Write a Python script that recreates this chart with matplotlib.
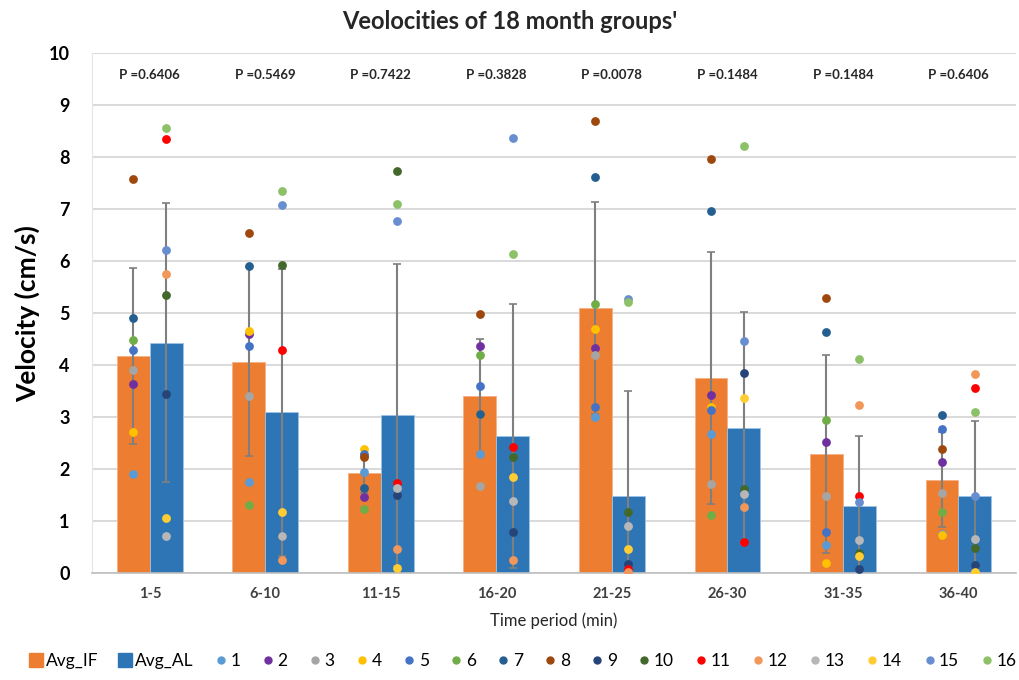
import numpy as np
import matplotlib
matplotlib.use("Agg")
import matplotlib.pyplot as plt
from matplotlib.lines import Line2D

plt.rcParams['font.family'] = ['Lato', 'DejaVu Sans']

# Time periods and summary stats
periods = ["1-5", "6-10", "11-15", "16-20", "21-25", "26-30", "31-35", "36-40"]
p_values = ["0.6406", "0.5469", "0.7422", "0.3828", "0.0078", "0.1484", "0.1484", "0.6406"]

avg_if = [4.17, 4.07, 1.92, 3.40, 5.10, 3.76, 2.29, 1.80]
avg_al = [4.43, 3.09, 3.04, 2.64, 1.48, 2.79, 1.29, 1.49]
err_if = [1.69, 1.81, 0.38, 1.11, 2.04, 2.42, 1.91, 0.91]
err_al = [2.68, 2.75, 2.90, 2.54, 2.03, 2.23, 1.34, 1.44]

# Individual subjects, one row per subject, one value per period
# subjects 1-8 sit on the IF bars
if_subjects = [
    [1.91, 1.76, 1.95, 2.30, 3.00, 2.67, 0.55, 0.75],   # 1
    [3.63, 4.59, 1.47, 4.36, 4.33, 3.42, 2.53, 2.13],   # 2
    [3.90, 3.41, 2.26, 1.67, 4.19, 1.72, 1.48, 1.54],   # 3
    [2.71, 4.66, 2.38, 3.07, 4.69, 3.20, 0.19, 0.73],   # 4
    [4.29, 4.37, 2.30, 3.60, 3.20, 3.14, 0.79, 2.78],   # 5
    [4.48, 1.31, 1.23, 4.20, 5.17, 1.12, 2.94, 1.17],   # 6
    [4.91, 5.91, 1.63, 3.07, 7.62, 6.96, 4.63, 3.04],   # 7
    [7.58, 6.55, 2.24, 4.98, 8.69, 7.96, 5.30, 2.39],   # 8
]
# subjects 9-16 sit on the AL bars
al_subjects = [
    [3.44, 0.72, 1.51, 0.80, 0.18, 3.84, 0.08, 0.15],   # 9
    [5.34, 5.92, 7.74, 2.23, 1.18, 1.61, 0.38, 0.49],   # 10
    [8.35, 4.29, 1.74, 2.42, 0.08, 0.60, 1.48, 3.57],   # 11
    [5.76, 0.25, 0.47, 0.26, 0.02, 1.27, 3.23, 3.83],   # 12
    [0.72, 0.72, 1.63, 1.39, 0.91, 1.52, 0.63, 0.65],   # 13
    [1.06, 1.17, 0.10, 1.85, 0.47, 3.36, 0.34, 0.03],   # 14
    [6.22, 7.07, 6.78, 8.37, 5.27, 4.47, 1.36, 1.49],   # 15
    [8.56, 7.35, 7.09, 6.14, 5.21, 8.21, 4.11, 3.10],   # 16
]

subject_colors = ['#5B9BD5', '#7030A0', '#A5A5A5', '#FFC000',
                  '#4472C4', '#70AD47', '#255E91', '#9E480E',
                  '#264478', '#43682B', '#FF0000', '#F1975A',
                  '#B7B7B7', '#FFCD33', '#698ED0', '#8CC168']

fig = plt.figure(figsize=(10.19, 6.8), dpi=100)
ax = fig.add_axes([0.0903, 0.157, 0.907, 0.765])

x = np.arange(len(periods))
w = 0.285
ebar = dict(ecolor='#7F7F7F', elinewidth=1.5, capsize=3, capthick=1.2)

ax.bar(x - w / 2, avg_if, w, color='#ED7D31', edgecolor='#F4B183', linewidth=0.6,
       yerr=err_if, error_kw=ebar, zorder=2)
ax.bar(x + w / 2, avg_al, w, color='#2E75B6', edgecolor='#9DC3E6', linewidth=0.6,
       yerr=err_al, error_kw=ebar, zorder=2)

for i, vals in enumerate(if_subjects):
    ax.scatter(x - w / 2, vals, s=40, color=subject_colors[i], zorder=3, linewidths=0)
for i, vals in enumerate(al_subjects):
    ax.scatter(x + w / 2, vals, s=40, color=subject_colors[8 + i], zorder=3, linewidths=0)

# p-values above each period
for xi, p in zip(x, p_values):
    ax.text(xi, 9.58, "P =" + p, ha='center', va='center', fontsize=9.5,
            fontweight='bold', color='#262626')

ax.set_xlim(-0.5, len(periods) - 0.5)
ax.set_ylim(0, 10)
ax.set_yticks(range(0, 11))
ax.set_xticks(x)
ax.set_xticklabels(periods, fontsize=10.5, fontweight='bold', color='#404040')
ax.tick_params(axis='y', labelsize=13, length=0, pad=16)
for lbl in ax.get_yticklabels():
    lbl.set_fontweight('bold')
ax.tick_params(axis='x', length=0, pad=10)
ax.yaxis.grid(True, color='#D9D9D9', linewidth=1.4, zorder=0)
ax.set_axisbelow(True)
for side in ['top', 'right']:
    ax.spines[side].set_visible(False)
ax.spines['left'].set_color('#E6E6E6')
ax.spines['bottom'].set_color('#BFBFBF')
ax.spines['bottom'].set_linewidth(1.2)

ax.set_xlabel("Time period (min)", fontsize=12, color='#262626', labelpad=8)
ax.set_ylabel("Velocity (cm/s)", fontsize=19, fontweight='bold', labelpad=6)
fig.suptitle("Veolocities of 18 month groups'", fontsize=17, fontweight='bold',
             y=0.985, color='#262626')

handles = [Line2D([], [], marker='s', linestyle='', color='#ED7D31', markersize=10),
           Line2D([], [], marker='s', linestyle='', color='#2E75B6', markersize=10)]
labels = ["Avg_IF", "Avg_AL"]
for i, c in enumerate(subject_colors):
    handles.append(Line2D([], [], marker='o', linestyle='', color=c, markersize=5))
    labels.append(str(i + 1))
fig.legend(handles, labels, loc='center', bbox_to_anchor=(0.512, 0.028), ncol=18,
           frameon=False, fontsize=12.5, handletextpad=0.05, columnspacing=1.08,
           handlelength=1.0)

fig.savefig("out.png", dpi=100)
